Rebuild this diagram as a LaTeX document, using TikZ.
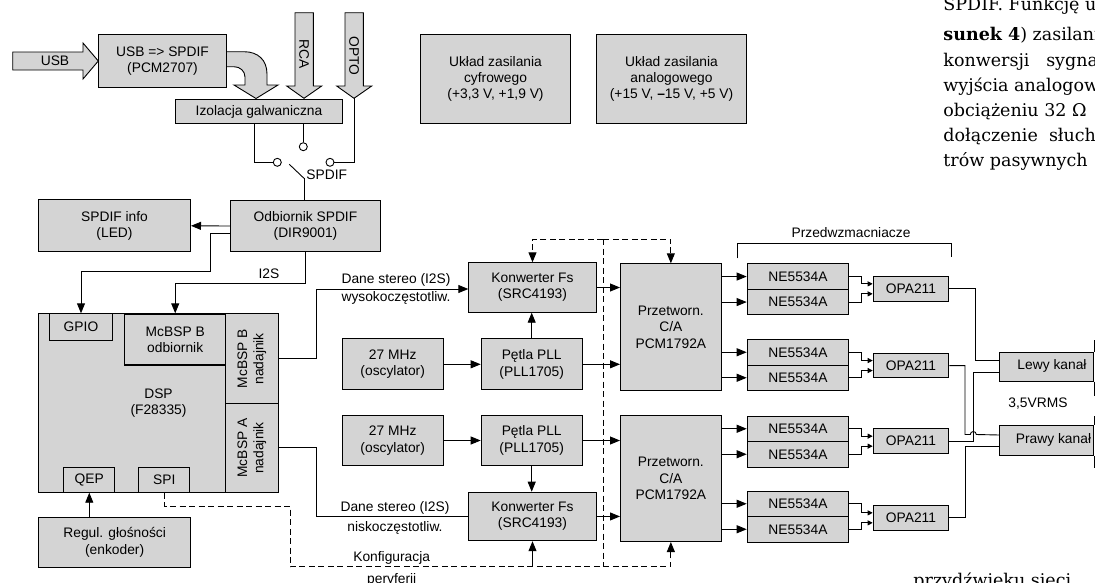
\documentclass[tikz,border=0pt]{standalone}
\usepackage{fontspec}
\setmainfont{Liberation Sans}
\newfontfamily\artfont{DejaVu Serif}
\usetikzlibrary{arrows.meta}
\definecolor{boxgray}{HTML}{D4D4D4}
\def\szer{1095}
\def\wys{582}

\begin{document}
\begin{tikzpicture}[x=1pt, y=-1pt, line width=0.9pt,
	font=\fontsize{13.8}{16.3}\selectfont,
	every node/.append style={align=center},
	box/.style={draw, fill=boxgray, line width=1pt, inner sep=0pt, anchor=north west},
	gruby/.style={line width=1.45pt},
	arr/.style={-{Triangle[length=10pt,width=8pt]}},
	sarr/.style={-{Triangle[length=5pt,width=5pt]}},
	kons/.style={dash pattern=on 6pt off 3.5pt},
	styk/.style={circle, draw, fill=white, inner sep=0pt, minimum size=8pt},
	strz/.style={draw, fill=boxgray, line join=miter},
	art/.style={anchor=base west, inner sep=0pt, font=\artfont\fontsize{17.5}{20}\selectfont}]
	\useasboundingbox (0,0) rectangle (\szer,\wys);
	%\draw[step=50, black!20] (0,0) grid (\szer,\wys);

	% wejscia
	\draw[strz] (12.7,52) -- (83,52) -- (83,43) -- (98.3,61) -- (83,79) -- (83,70) -- (12.7,70) -- cycle;
	\node (usbtxt) at (55,61) {USB};
	\draw[strz] (295,12.7) -- (313.3,12.7) -- (313.3,86) -- (321.7,86) -- (304,98.3) -- (286.7,86) -- (295,86) -- cycle;
	\node[rotate=-90] (rcatxt) at (304,54) {RCA};
	\coordinate (optotip) at (354,98.3);
	\draw[strz] (345,12.7) -- (363.3,12.7) -- (363.3,86) -- (371.7,86) -- (optotip) -- (336.7,86) -- (345,86) -- cycle;
	\node[rotate=-90] (optotxt) at (354,56) {OPTO};
	\draw[strz] (226,51.7) -- (244,51.7) .. controls (258,51.7) and (267,60) .. (267,74) -- (267,85) -- (278,85) -- (256,98.5) -- (234,85) -- (245,85) -- (245,77) .. controls (245,71) and (240,66.7) .. (234,66.7) -- (226,66.7) -- cycle;

	\node[box, minimum width=128pt, minimum height=53pt] (usbspdif) at (98,34) {USB => SPDIF\\(PCM2707)};
	\node[box, minimum width=167pt, minimum height=24pt] (izol) at (175,99.3) {Izolacja galwaniczna};
	\node[box, minimum width=150pt, minimum height=89pt] (zascyf) at (420,34) {Układ zasilania\\cyfrowego\\(+3,3 V, +1,9 V)};
	\node[box, minimum width=150pt, minimum height=89pt] (zasan) at (596,34) {Układ zasilania\\analogowego\\(+15 V, {\bfseries –}15 V, +5 V)};

	% przelacznik SPDIF
	\node[styk] (k1) at (277.3,162.3) {};
	\node[styk] (k2) at (303.3,146.7) {};
	\node[styk] (k3) at (330,162.3) {};
	\coordinate (piv) at (304,178.3);
	\coordinate (noz) at (289.3,164.3);
	\draw (izol.south -| 254,0) |- (k1.west);
	\draw (izol.south -| k2.north) -- (k2.north);
	\draw (optotip) |- (k3.east);
	\draw (piv) -- (noz);
	\node[anchor=west, inner sep=0pt] (spdiftxt) at (306,175) {SPDIF};

	\node[box, minimum width=152pt, minimum height=52pt] (spdifinfo) at (38,199.3) {SPDIF info\\(LED)};
	\node[box, minimum width=150pt, minimum height=51pt] (odb) at (230,200) {Odbiornik SPDIF\\(DIR9001)};
	\draw (piv) -- (piv |- odb.north);

	% DSP
	\node[box, minimum width=239.4pt, minimum height=178.4pt] (dsp) at (38.3,313.3) {};
	\node[box, minimum width=62.4pt, minimum height=26.7pt] (gpio) at (49.3,313.3) {GPIO};
	\node[box, gruby, minimum width=101pt, minimum height=51pt] (bodb) at (124,313.3) {McBSP B\\odbiornik};
	\node[box, minimum width=52.7pt, minimum height=90pt] (bnad) at (225,313.3) {};
	\node[box, minimum width=52.7pt, minimum height=88.4pt] (anad) at (225,403.3) {};
	\node[box, minimum width=51pt, minimum height=25pt] (qep) at (63.3,466.7) {QEP};
	\node[box, minimum width=51pt, minimum height=25pt] (spi) at (138.3,466.7) {SPI};
	\draw[gruby] (dsp.north west) rectangle (dsp.south east);
	\node[rotate=90] (bnadtxt) at (bnad.center) {McBSP B\\nadajnik};
	\node[rotate=90] (anadtxt) at (anad.center) {McBSP A\\nadajnik};
	\node (dsptxt) at (dsp.center) {DSP\\(F28335)};
	\node[box, minimum width=151.7pt, minimum height=50pt] (regul) at (38.3,516.7) {Regul. głośności\\(enkoder)};
	\draw[arr] (regul.north -| qep.south) -- (qep.south);

	\draw[arr] (odb.west) -- (spdifinfo.east);
	\draw[arr] (odb.west |- 0,233.3) -| (210,271.7) -| (gpio.north);
	\draw[arr] (odb.south) -- ++(0,31.3) -| (bodb.north);
	\node (i2s) at (269,274) {I2S};

	% tor cyfrowy
	\node[box, minimum width=127.4pt, minimum height=49.4pt] (konw1) at (468.3,262.3) {Konwerter Fs\\(SRC4193)};
	\node[box, minimum width=101pt, minimum height=51pt] (osc1) at (341.7,338.3) {27 MHz\\(oscylator)};
	\node[box, minimum width=101pt, minimum height=51pt] (pll1) at (480.7,338.3) {Pętla PLL\\(PLL1705)};
	\node[box, minimum width=101pt, minimum height=50pt] (osc2) at (341.7,415) {27 MHz\\(oscylator)};
	\node[box, minimum width=101pt, minimum height=50pt] (pll2) at (480.7,415) {Pętla PLL\\(PLL1705)};
	\node[box, minimum width=127.4pt, minimum height=48.5pt] (konw2) at (468.3,491.7) {Konwerter Fs\\(SRC4193)};
	\node[box, minimum width=100.7pt, minimum height=126.7pt] (dac1) at (620,263.3) {Przetworn.\\C/A\\PCM1792A};
	\node[box, minimum width=100.7pt, minimum height=126pt] (dac2) at (620,415) {Przetworn.\\C/A\\PCM1792A};

	\draw[arr] (bnad.east |- 0,358.3) -| (316.7,289) -- (konw1.west |- 0,289);
	\draw (anad.east |- 0,447.7) -| (316,516) -- (konw2.west |- 0,516);
	\node (danew) at (396,289) {Dane stereo (I2S)\\[1.8pt]wysokoczęstotliw.};
	\node (danen) at (395,518.3) {Dane stereo (I2S)\\[3.5pt]niskoczęstotliw.};

	\draw[arr] (osc1) -- (pll1);
	\draw[arr] (pll1.north) -- (pll1.north |- konw1.south);
	\draw[arr] (konw1.east) -- (konw1.east -| dac1.west);
	\draw[arr] (pll1.east) -- (pll1.east -| dac1.west);
	\draw[arr] (osc2) -- (pll2);
	\draw[arr] (pll2.south) -- (pll2.south |- konw2.north);
	\draw[arr] (pll2.east) -- (pll2.east -| dac2.west);
	\draw[arr] (konw2.east) -- (konw2.east -| dac2.west);

	% konfiguracja
	\coordinate (kfg) at (603.3,239);
	\draw[kons, arr] (kfg) -| (konw1.north);
	\draw[kons, arr] (kfg) -| (dac1.north);
	\draw[kons] (kfg) -- (603.3,566.7);
	\draw[kons, arr] (spi.south) -- ++(0,13.3) -| (290,566.7) -| (dac2.south);
	\draw[arr] (konw2.south |- 0,566.7) -- (konw2.south);
	\node (konfig) at (391.7,569) {Konfiguracja\\[5pt]peryferii};

	% przedwzmacniacze
	\foreach \i/\y in {1/263.3, 2/288.8, 3/339, 4/364.5, 5/415.5, 6/441, 7/490.5, 8/516}
		\node[box, minimum width=101.6pt, minimum height=25.5pt] (ne\i) at (746.7,\y) {NE5534A};
	\foreach \i/\y in {1/276, 2/352.7, 3/428.3, 4/505}
		\node[box, minimum width=75.6pt, minimum height=24.7pt] (opa\i) at (872.7,\y) {OPA211};
	\foreach \i in {1,...,4}
		\draw[arr] (ne\i.west -| dac1.east) -- (ne\i.west);
	\foreach \i in {5,...,8}
		\draw[arr] (ne\i.west -| dac2.east) -- (ne\i.west);
	\foreach \k/\a/\b in {1/1/2, 2/3/4, 3/5/6, 4/7/8} {
		\draw[sarr] (ne\a.east) -| ([xshift=-11pt,yshift=5pt]opa\k.west) -- ([yshift=5pt]opa\k.west);
		\draw[sarr] (ne\b.east) -| ([xshift=-11pt,yshift=-5pt]opa\k.west) -- ([yshift=-5pt]opa\k.west);
	}
	\draw (737.7,258.3) |- (951.7,243.3) -- (951.7,257);
	\node (przedw) at (851,233) {Przedwzmacniacze};

	% wyjscia
	\node[box, minimum width=94pt, minimum height=29pt] (lewy) at (999.3,351.7) {};
	\node[box, minimum width=94pt, minimum height=30pt] (prawy) at (999.3,425) {};
	\node (lewytxt) at (1052,366.2) {Lewy kanał};
	\node (prawytxt) at (1053.5,440) {Prawy kanał};
	\draw (lewy.north east) -- ++(0,-12);
	\draw (lewy.south east) -- ++(0,14);
	\draw (prawy.north east) -- ++(0,-9);
	\draw (prawy.south east) -- ++(0,12);
	\draw (opa1.east) -| ([xshift=-24pt,yshift=6pt]lewy.west) -- ([yshift=6pt]lewy.west);
	\draw (opa2.east) -| (965,434.5) -- (970.3,434.5) arc[start angle=180, end angle=0, radius=3pt] -- ([yshift=5.5pt]prawy.west);
	\draw (opa3.east) -| ([xshift=-26pt,yshift=-6pt]lewy.west) -- ([yshift=-6pt]lewy.west);
	\draw (opa4.east) -| ([xshift=-34pt,yshift=-5.5pt]prawy.west) -- ([yshift=-5.5pt]prawy.west);
	\node[anchor=west, inner sep=0pt] (vrms) at (1008,404) {3,5VRMS};

	% tekst artykulu
	\begin{scope}
		\clip (0,0) rectangle (\szer,\wys);
		\node[art] (t1) at (943,10) {SPDIF. Funkcję układu};
		\node[art] (t2) at (943,40.5) {\textbf{sunek 4}) zasilania};
		\node[art] (t3) at (943,66) {konwersji\ \ \ sygnału};
		\node[art] (t4) at (943,91) {wyjścia analogowe};
		\node[art] (t5) at (943,116.5) {obciążeniu 32 Ω};
		\node[art] (t6) at (943,141.5) {dołączenie\ \ słuchawek};
		\node[art] (t7) at (943,166.5) {trów pasywnych};
		\node[art] (t8) at (913,586) {przydźwięku sieci};
	\end{scope}
\end{tikzpicture}
\end{document}
